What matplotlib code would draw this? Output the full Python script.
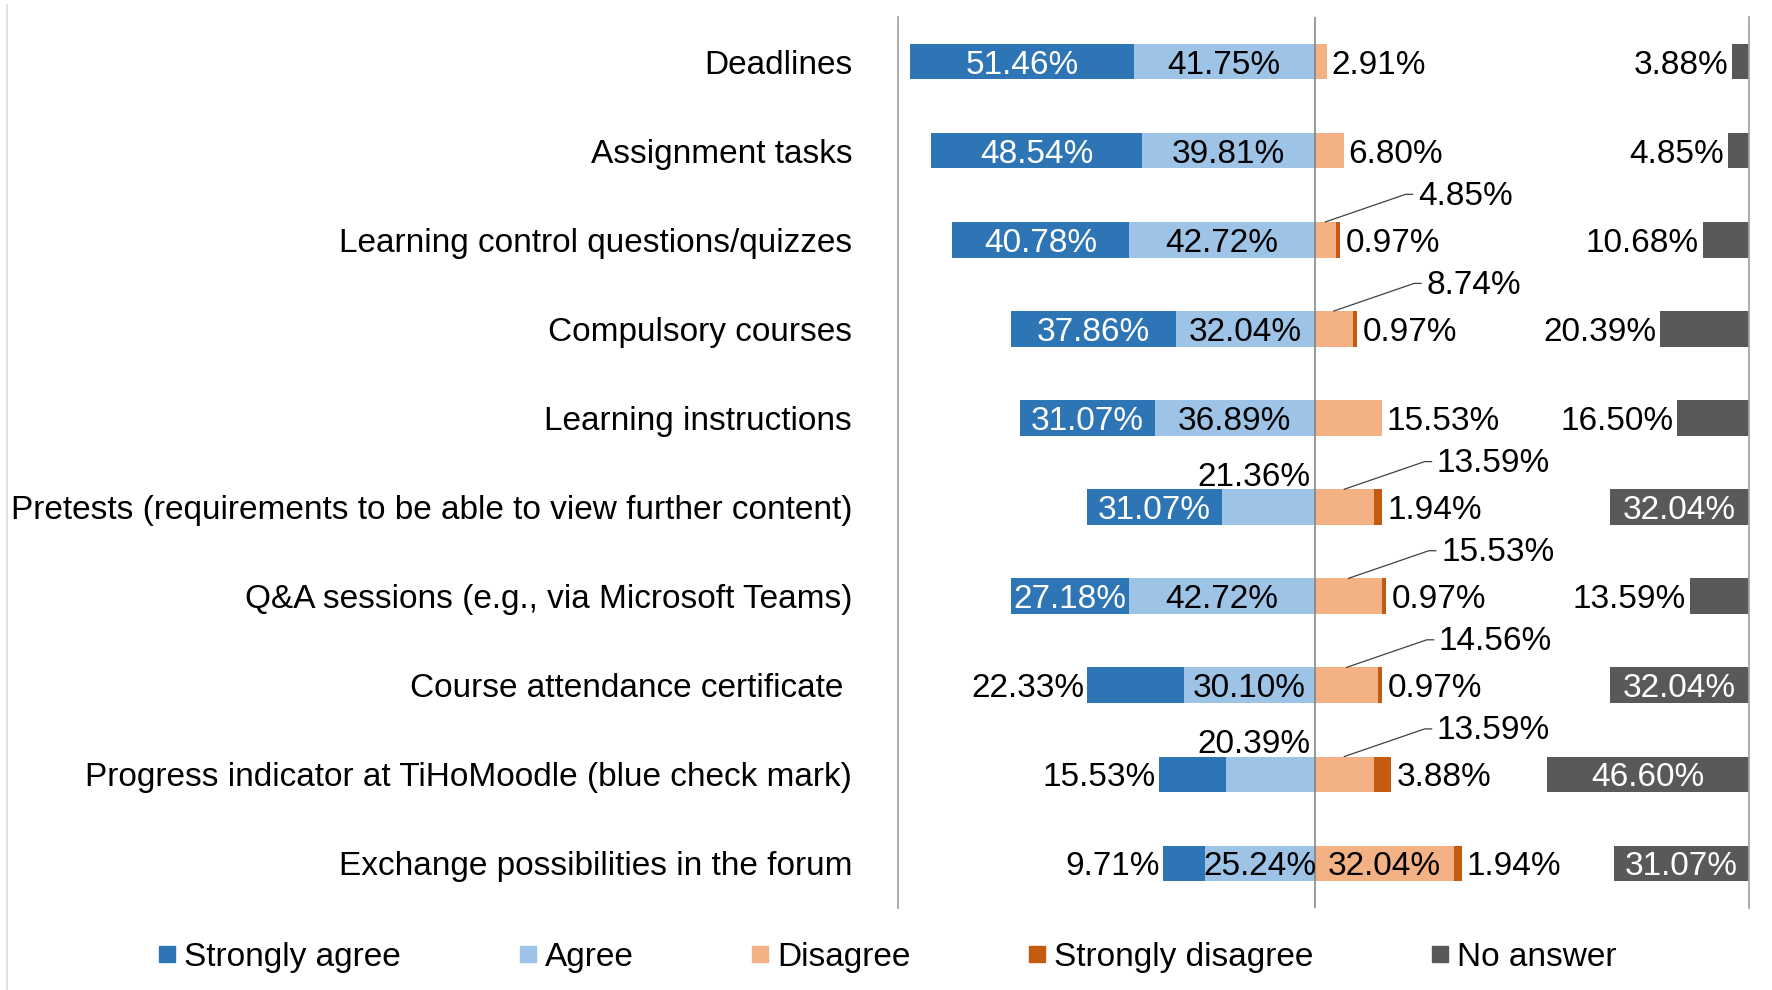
import matplotlib.pyplot as plt
from matplotlib.patches import Rectangle
from matplotlib.lines import Line2D
import numpy as np

plt.rcParams['font.family'] = ['Liberation Sans', 'DejaVu Sans']

# survey data (% of respondents), top row first
items = ['Deadlines',
         'Assignment tasks',
         'Learning control questions/quizzes',
         'Compulsory courses',
         'Learning instructions',
         'Pretests (requirements to be able to view further content)',
         'Q&A sessions (e.g., via Microsoft Teams)',
         'Course attendance certificate ',
         'Progress indicator at TiHoMoodle (blue check mark)',
         'Exchange possibilities in the forum']
strongly_agree = [51.46, 48.54, 40.78, 37.86, 31.07, 31.07, 27.18, 22.33, 15.53, 9.71]
agree = [41.75, 39.81, 42.72, 32.04, 36.89, 21.36, 42.72, 30.10, 20.39, 25.24]
disagree = [2.91, 6.80, 4.85, 8.74, 15.53, 13.59, 15.53, 14.56, 13.59, 32.04]
strongly_disagree = [0, 0, 0.97, 0.97, 0, 1.94, 0.97, 0.97, 3.88, 1.94]
no_answer = [3.88, 4.85, 10.68, 20.39, 16.50, 32.04, 13.59, 32.04, 46.60, 31.07]

legend_names = ['Strongly agree', 'Agree', 'Disagree', 'Strongly disagree', 'No answer']
colors = ['#2E75B6', '#9DC3E6', '#F4B183', '#C55A11', '#595959']

W, H = 1772, 990
fs = 24
fig = plt.figure(figsize=(W / 100, H / 100), dpi=100)
ax = fig.add_axes([898 / W, 1 - 908 / H, (1749 - 898) / W, (908 - 17) / H])

sa = np.array(strongly_agree)
a = np.array(agree)
d = np.array(disagree)
sd = np.array(strongly_disagree)
na = np.array(no_answer)
y = np.arange(len(items))
bh = 0.4

ax.barh(y, sa, left=-(sa + a), height=bh, color=colors[0])
ax.barh(y, a, left=-a, height=bh, color=colors[1])
ax.barh(y, d, left=0, height=bh, color=colors[2])
ax.barh(y, sd, left=d, height=bh, color=colors[3])
ax.barh(y, na, left=100 - na, height=bh, color=colors[4])

ax.set_xlim(-96, 100)
ax.set_ylim(len(items) - 0.5, -0.5)
ax.axvline(0, color='#7F7F7F', lw=1.1)

def pct(v):
    return f'{v:.2f}%'

for i in range(len(items)):
    # strongly agree
    if sa[i] >= 25:
        ax.text(-(a[i] + sa[i] / 2), i, pct(sa[i]), ha='center', va='center_baseline',
                color='white', fontsize=fs)
    else:
        ax.annotate(pct(sa[i]), (-(a[i] + sa[i]), i), xytext=(-2, 0), textcoords='offset points',
                    ha='right', va='center_baseline', fontsize=fs)
    # agree
    if a[i] >= 25:
        ax.text(-a[i] / 2, i, pct(a[i]), ha='center', va='center_baseline', fontsize=fs)
    else:
        ax.annotate(pct(a[i]), (0, i - 0.37), xytext=(-3, 0), textcoords='offset points',
                    ha='right', va='center_baseline', fontsize=fs)
    # disagree / strongly disagree
    if d[i] >= 25:
        ax.text(d[i] / 2, i, pct(d[i]), ha='center', va='center_baseline', fontsize=fs)
        ax.annotate(pct(sd[i]), (d[i] + sd[i], i), xytext=(3, 0), textcoords='offset points',
                    ha='left', va='center_baseline', fontsize=fs)
    elif sd[i] > 0:
        mid = d[i] / 2
        tx, ty = mid + 21.3, i - 0.53
        ax.plot([mid, tx - 2.8, tx - 1.2], [i - bh / 2, ty + 0.02, ty + 0.02], color='#404040', lw=0.9)
        ax.text(tx, ty, pct(d[i]), ha='left', va='center_baseline', fontsize=fs)
        ax.annotate(pct(sd[i]), (d[i] + sd[i], i), xytext=(4, 0), textcoords='offset points',
                    ha='left', va='center_baseline', fontsize=fs)
    else:
        ax.annotate(pct(d[i]), (d[i], i), xytext=(3, 0), textcoords='offset points',
                    ha='left', va='center_baseline', fontsize=fs)
    # no answer
    if na[i] >= 25:
        ax.text(100 - na[i] / 2, i, pct(na[i]), ha='center', va='center_baseline',
                color='white', fontsize=fs)
    else:
        ax.annotate(pct(na[i]), (100 - na[i], i), xytext=(-3, 0), textcoords='offset points',
                    ha='right', va='center_baseline', fontsize=fs)

ax.set_yticks(y, items, fontsize=fs)
ax.tick_params(axis='y', length=0, pad=33)
ax.set_xticks([])
for s in ['top', 'bottom']:
    ax.spines[s].set_visible(False)
ax.spines['left'].set_color('#A6A6A6')
ax.spines['right'].set_color('#A6A6A6')
ax.spines['left'].set_linewidth(1.3)
ax.spines['right'].set_linewidth(1.3)

# faint chart border on the left
fig.add_artist(Line2D([6.5 / W, 6.5 / W], [0, 1 - 5 / H], color='#DDDDDD', lw=1.2,
                      transform=fig.transFigure))

# legend drawn by hand
marker_x = [159, 520, 752, 1029, 1432]
for mx, name, c in zip(marker_x, legend_names, colors):
    fig.add_artist(Rectangle((mx / W, 1 - 962 / H), 16 / W, 16 / H, color=c,
                             transform=fig.transFigure))
    fig.text((mx + 25) / W, 1 - 954 / H, name, ha='left', va='center_baseline', fontsize=fs)

fig.savefig('out.png', dpi=100)
